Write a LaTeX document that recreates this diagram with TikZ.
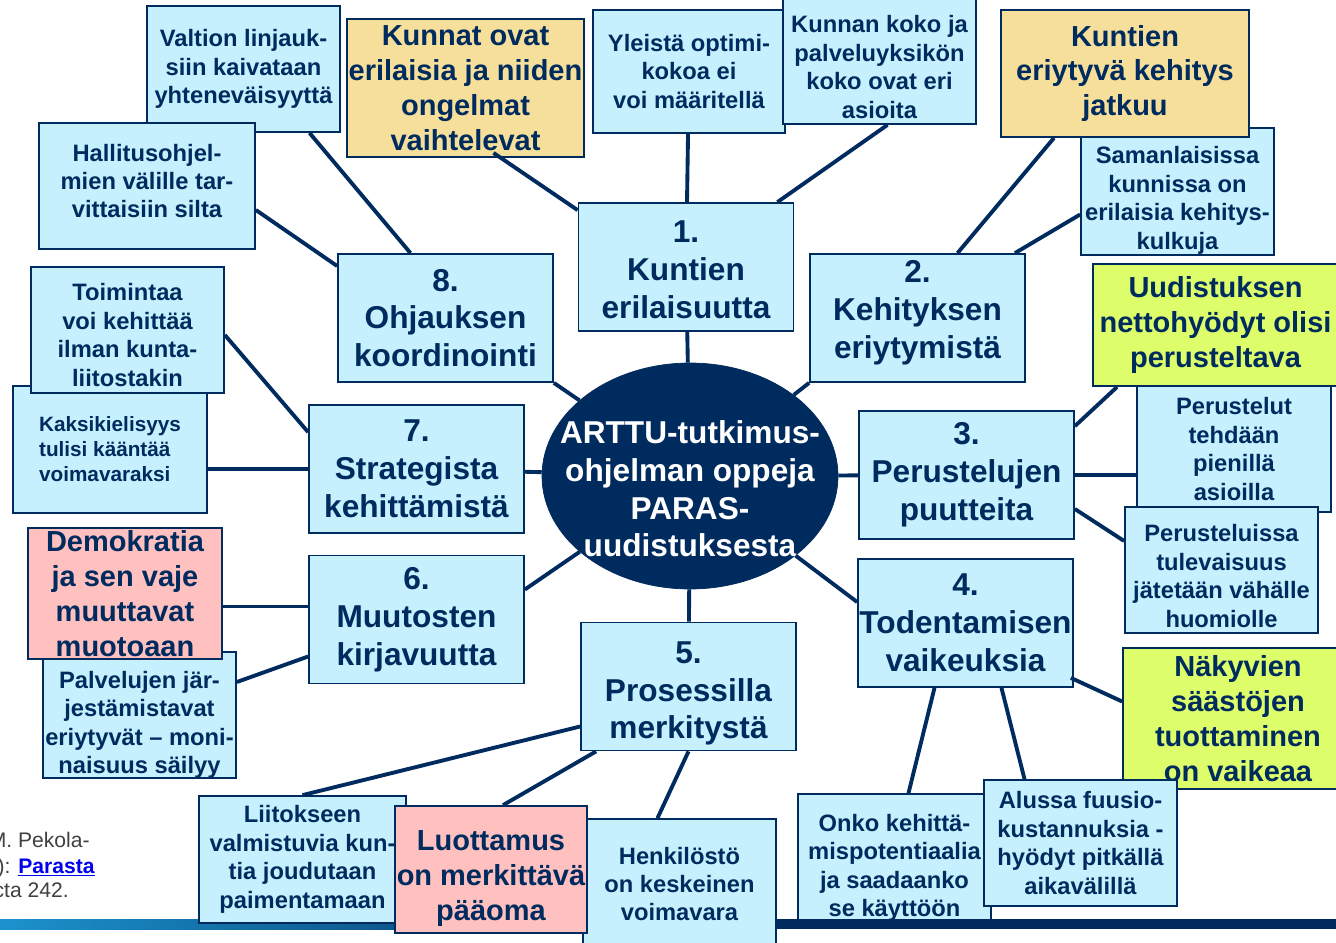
\documentclass[tikz,border=0pt]{standalone}
\usepackage{fontspec}
\setmainfont{Liberation Sans}
\usetikzlibrary{shapes.geometric}
\definecolor{artnavy}{RGB}{0,43,94}
\definecolor{boxblue}{RGB}{198,240,253}
\definecolor{sandbox}{RGB}{246,223,154}
\definecolor{limebox}{RGB}{221,253,106}
\definecolor{rosebox}{RGB}{255,192,192}
\definecolor{barblue}{RGB}{28,146,204}
\definecolor{linkblue}{RGB}{0,0,238}
\tikzset{
  sz/.style 2 args={minimum width=#1*0.02cm, minimum height=#2*0.02cm},
  box/.style={draw=artnavy, line width=1pt, fill=boxblue, text=artnavy, inner sep=0pt, align=center},
  mainbox/.style={box, sz={215}{128}, font=\fontsize{18}{21.5}\selectfont\bfseries},
  subbox/.style={box, font=\fontsize{13.5}{16.2}\selectfont\bfseries},
  bigbox/.style={box, font=\fontsize{16.5}{19.8}\selectfont\bfseries},
  maintext/.style={text=artnavy, align=center, inner sep=0pt, font=\fontsize{18}{21.5}\selectfont\bfseries},
  subtext/.style={text=artnavy, align=center, inner sep=0pt, font=\fontsize{13.5}{16.2}\selectfont\bfseries},
  bigtext/.style={text=artnavy, align=center, inner sep=0pt, font=\fontsize{16.5}{19.8}\selectfont\bfseries},
  hub/.style={ellipse, fill=artnavy, draw=artnavy, inner sep=0pt, sz={296}{226}},
  hubtext/.style={text=white, align=center, inner sep=0pt, font=\fontsize{18}{21.5}\selectfont\bfseries},
  link/.style={artnavy, line width=2.2pt},
  foot/.style={text=black!75, font=\fontsize{12}{14}\selectfont, inner sep=0pt},
}
\begin{document}
\begin{tikzpicture}[x=0.02cm, y=-0.02cm]
\useasboundingbox[fill=white] (0,0) rectangle (1336,943);
% footer bar and source
\shade[left color=barblue, right color=artnavy] (0,919) rectangle (700,929);
\fill[artnavy] (700,919) rectangle (1336,929);
\node[foot, anchor=base east] (src1) at (90,847) {M. Pekola-};
\node[foot, anchor=base east] (src2) at (95,873) {): \textcolor{linkblue}{\underline{\textbf{Parasta}}}};
\node[foot, anchor=base east] (src3) at (69,897) {cta 242.};

% centre
\node[hub, label={[hubtext, yshift=-0.26cm]center:{ARTTU-tutkimus-\\ohjelman oppeja\\PARAS-\\uudistuksesta}}] (arttu) at (690,476) {};

% the eight themes
\node[mainbox, label={[maintext, yshift=-0.06cm]center:{1.\\Kuntien\\erilaisuutta}}] (b1) at (686,267) {};
\node[mainbox, label={[maintext, yshift=0.1cm]center:{2.\\Kehityksen\\eriytymistä}}] (b2) at (917.5,318) {};
\node[mainbox] (b3) at (966.5,475) {3.\\Perustelujen\\puutteita};
\node[mainbox] (b4) at (965.5,623) {4.\\Todentamisen\\vaikeuksia};
\node[mainbox, label={[maintext, yshift=-0.14cm]center:{5.\\Prosessilla\\merkitystä}}] (b5) at (688.5,686.5) {};
\node[mainbox] (b6) at (416.5,619.5) {6.\\Muutosten\\kirjavuutta};
\node[mainbox] (b7) at (416.5,469) {7.\\Strategista\\kehittämistä};
\node[mainbox] (b8) at (445.5,318) {8.\\Ohjauksen\\koordinointi};

% findings
\node[subbox, sz={193}{126}] (valtion) at (243.5,69) {Valtion linjauk-\\siin kaivataan\\yhteneväisyyttä};
\node[subbox, sz={216}{126}, label={[subtext, yshift=0.1cm]center:{Hallitusohjel-\\mien välille tar-\\vittaisiin silta}}] (hallitus) at (147,186) {};
\node[bigbox, fill=sandbox, sz={237}{138}] (kunnat) at (465.5,88) {Kunnat ovat\\erilaisia ja niiden\\ongelmat\\vaihtelevat};
\node[subbox, sz={192}{123}] (yleista) at (689,71.5) {Yleistä optimi-\\kokoa ei\\voi määritellä};
\node[subbox, sz={193}{134}, label={[subtext, yshift=-0.2cm]center:{Kunnan koko ja\\palveluyksikön\\koko ovat eri\\asioita}}] (kunnan) at (879.5,57) {};
\node[subbox, sz={193}{127}, label={[subtext, yshift=-0.18cm]center:{Samanlaisissa\\kunnissa on\\erilaisia kehitys-\\kulkuja}}] (saman) at (1177.5,191.5) {};
\node[bigbox, fill=sandbox, sz={248}{127}] (kuntien) at (1125,73.5) {Kuntien\\eriytyvä kehitys\\jatkuu};
\node[bigbox, fill=limebox, sz={245}{122}] (uudist) at (1215.5,325) {Uudistuksen\\nettohyödyt olisi\\perusteltava};
\node[subbox, sz={194}{126}] (perustelut) at (1234,449) {Perustelut\\tehdään\\pienillä\\asioilla};
\node[subbox, sz={193}{126}, label={[subtext, yshift=-0.12cm]center:{Perusteluissa\\tulevaisuus\\jätetään vähälle\\huomiolle}}] (perusteluissa) at (1221.5,570) {};
\node[bigbox, fill=limebox, sz={230}{141}] (nakyvien) at (1238,718.5) {Näkyvien\\säästöjen\\tuottaminen\\on vaikeaa};
\node[subbox, sz={193}{126}, label={[subtext, yshift=-0.22cm]center:{Onko kehittä-\\mispotentiaalia\\ja saadaanko\\se käyttöön}}] (onko) at (894.5,857) {};
\node[subbox, sz={193}{126}] (alussa) at (1080.5,843) {Alussa fuusio-\\kustannuksia -\\hyödyt pitkällä\\aikavälillä};
\node[subbox, sz={193}{130}] (henkilosto) at (679.5,884) {Henkilöstö\\on keskeinen\\voimavara};
\node[subbox, sz={207}{127}] (liitokseen) at (302.5,859.5) {Liitokseen\\valmistuvia kun-\\tia joudutaan\\paimentamaan};
\node[bigbox, fill=rosebox, sz={192}{127}, label={[bigtext, yshift=-0.18cm]center:{Luottamus\\on merkittävä\\pääoma}}] (luottamus) at (491,869.5) {};
\node[subbox, sz={193}{126}, label={[subtext, yshift=-0.2cm]center:{Palvelujen jär-\\jestämistavat\\eriytyvät – moni-\\naisuus säilyy}}] (palvelujen) at (139.5,715) {};
\node[bigbox, fill=rosebox, sz={194}{131}] (demokratia) at (125,593.5) {Demokratia\\ja sen vaje\\muuttavat\\muotoaan};
\node[subbox, sz={194}{127}, align=left, font=\fontsize{11.8}{14.2}\selectfont\bfseries] (kaksi) at (110,449.5) {Kaksikielisyys\\tulisi kääntää\\voimavaraksi};
\node[subbox, sz={193}{126}, label={[subtext, yshift=-0.1cm]center:{Toimintaa\\voi kehittää\\ilman kunta-\\liitostakin}}] (toimintaa) at (127.5,330) {};

% spokes from the hub
\draw[link] (arttu) -- (b1);
\draw[link] (arttu) -- (b2.south west);
\draw[link] (arttu) -- (b3);
\draw[link] (arttu) -- ([shift={(0,-21)}]b4.west);
\draw[link] (arttu) -- (b5);
\draw[link] (arttu) -- ([shift={(0,-30)}]b6.east);
\draw[link] (arttu) -- (b7);
\draw[link] (arttu) -- (b8.south east);

% themes to findings
\draw[link] ([shift={(0,8)}]b1.north west) -- ([shift={(28,-5)}]kunnat.south);
\draw[link] (b1) -- (yleista);
\draw[link] ([shift={(-17,0)}]b1.north east) -- ([shift={(8,0)}]kunnan.south);
\draw[link] ([shift={(40,0)}]b2.north) -- ([shift={(-71,0)}]kuntien.south);
\draw[link] ([shift={(-11,0)}]b2.north east) -- ([shift={(0,23)}]saman.west);
\draw[link] ([shift={(0,16)}]b3.north east) -- ([shift={(25,0)}]uudist.south west);
\draw[link] (b3.east) -- (b3.east -| perustelut.west);
\draw[link] ([shift={(0,34)}]b3.east) -- ([shift={(0,-29)}]perusteluissa.west);
\draw[link] ([shift={(-3,-10)}]b4.south east) -- ([shift={(0,-17)}]nakyvien.west);
\draw[link] ([shift={(-31,0)}]b4.south) -- ([shift={(14,0)}]onko.north);
\draw[link] ([shift={(36,0)}]b4.south) -- ([shift={(-56,0)}]alussa.north);
\draw[link] ([shift={(0,40)}]b5.west) -- (liitokseen.north);
\draw[link] ([shift={(16,0)}]b5.south west) -- ([shift={(12,0)}]luottamus.north);
\draw[link] (b5.south) -- ([shift={(-22,0)}]henkilosto.north);
\draw[link] ([shift={(0,-13)}]b6.west) -- ([shift={(0,13)}]demokratia.east);
\draw[link] ([shift={(0,37)}]b6.west) -- ([shift={(0,-33)}]palvelujen.east);
\draw[link] (b7.west) -- (b7.west -| kaksi.east);
\draw[link] ([shift={(0,28)}]b7.north west) -- ([shift={(0,5)}]toimintaa.east);
\draw[link] ([shift={(0,-52)}]b8.west) -- ([shift={(0,24)}]hallitus.east);
\draw[link] ([shift={(-35,0)}]b8.north) -- ([shift={(66,0)}]valtion.south);
\end{tikzpicture}
\end{document}
